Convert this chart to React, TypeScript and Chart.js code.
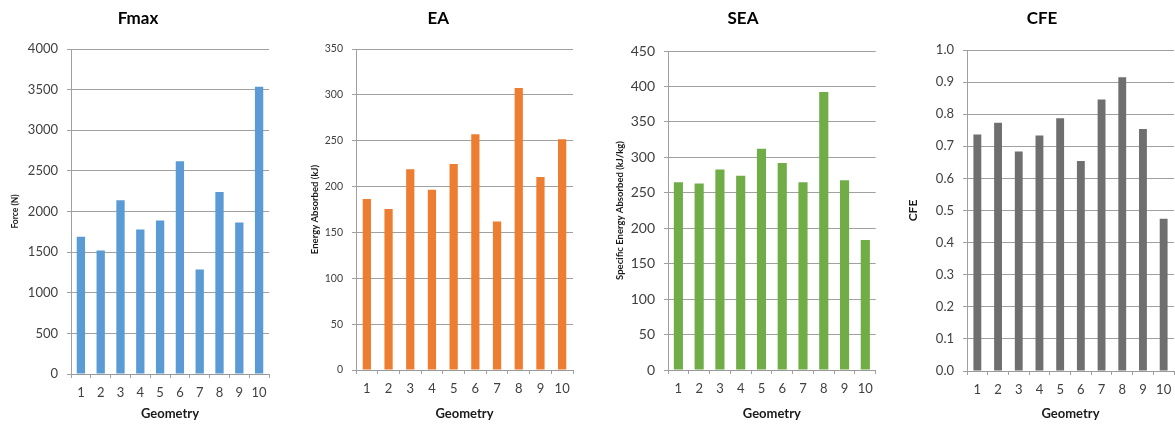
import React, { useEffect, useRef } from "react";
import { Chart, registerables } from "chart.js";

Chart.register(...registerables);

// Geometry numbers along the x axis of every panel
const geometries = ["1", "2", "3", "4", "5", "6", "7", "8", "9", "10"];

// Peak crushing force (N)
const fmaxValues = [1690, 1520, 2140, 1780, 1890, 2620, 1285, 2240, 1865, 3535];
// Energy absorbed (kJ)
const eaValues = [186.5, 175.5, 219, 196.5, 224.5, 257, 162, 307.5, 210.5, 251.5];
// Specific energy absorbed (kJ/kg)
const seaValues = [265, 263, 283, 274, 312, 292, 265, 392, 267.5, 183.5];
// Crush force efficiency
const cfeValues = [0.737, 0.773, 0.684, 0.734, 0.787, 0.654, 0.846, 0.915, 0.754, 0.474];

const FONT = "Lato, 'Open Sans', sans-serif";
const CANVAS_H = 424;

type PanelProps = {
  left: number;
  width: number;
  title: string;
  yTitle: string;
  values: number[];
  color: string;
  yMax: number;
  yStep: number;
  decimals: number;
  yAxisWidth: number;
  xAxisHeight: number;
  padLeft: number;
  padRight: number;
  titleBottom: number;
  yTickSize: number;
  yTitleSize: number;
  yTitlePad: number;
  barFrac: number;
};

function Panel(p: PanelProps) {
  const ref = useRef<HTMLCanvasElement | null>(null);

  useEffect(() => {
    if (!ref.current) return;
    const chart = new Chart(ref.current, {
      type: "bar",
      data: {
        labels: geometries,
        datasets: [
          {
            data: p.values,
            backgroundColor: p.color,
            borderWidth: 0,
            barPercentage: p.barFrac,
            categoryPercentage: 1,
          },
        ],
      },
      options: {
        responsive: false,
        animation: false,
        devicePixelRatio: 1,
        layout: { padding: { left: p.padLeft, right: p.padRight, top: 0, bottom: 0 } },
        plugins: {
          legend: { display: false },
          tooltip: { enabled: false },
          title: {
            display: true,
            text: p.title,
            color: "#000000",
            font: { family: FONT, size: 17, weight: "bold" },
            padding: { top: 8, bottom: p.titleBottom },
          },
        },
        scales: {
          x: {
            type: "category",
            offset: true,
            grid: {
              display: true,
              offset: true,
              drawOnChartArea: false,
              drawTicks: true,
              tickLength: 4,
              color: "#a0a0a0",
            },
            border: { display: true, color: "#9a9a9a", width: 1 },
            ticks: {
              color: "#404040",
              font: { family: FONT, size: 13 },
              padding: 7,
              maxRotation: 0,
              autoSkip: false,
            },
            title: {
              display: true,
              text: "Geometry",
              color: "#1a1a1a",
              font: { family: FONT, size: 13, weight: "bold" },
              padding: { top: 0, bottom: 2 },
            },
            afterFit: (scale: any) => {
              scale.height = p.xAxisHeight;
            },
          },
          y: {
            type: "linear",
            min: 0,
            max: p.yMax,
            grid: {
              color: "#a0a0a0",
              lineWidth: 1,
              drawTicks: true,
              tickLength: 4,
            },
            border: { display: true, color: "#a0a0a0", width: 1 },
            ticks: {
              stepSize: p.yStep,
              color: "#404040",
              font: { family: FONT, size: p.yTickSize },
              padding: 9,
              callback: (v: any) => Number(v).toFixed(p.decimals),
            },
            title: {
              display: true,
              text: p.yTitle,
              color: "#1a1a1a",
              font: { family: FONT, size: p.yTitleSize, weight: "bold" },
              padding: { top: p.yTitlePad, bottom: 0 },
            },
            afterFit: (scale: any) => {
              scale.width = p.yAxisWidth;
            },
          },
        },
      },
    });
    return () => chart.destroy();
  }, []);

  return (
    <canvas
      ref={ref}
      width={p.width}
      height={CANVAS_H}
      style={{ position: "absolute", left: p.left, top: 0, width: p.width, height: CANVAS_H }}
    />
  );
}

export default function App() {
  return (
    <div
      style={{
        position: "absolute",
        left: 0,
        top: 0,
        width: 1175,
        height: 424,
        overflow: "hidden",
        background: "#ffffff",
      }}
    >
      <Panel
        left={0}
        width={290}
        title="Fmax"
        yTitle="Force (N)"
        values={fmaxValues}
        color="#5b9bd5"
        yMax={4000}
        yStep={500}
        decimals={0}
        padLeft={7}
        yAxisWidth={64}
        xAxisHeight={50}
        padRight={21}
        titleBottom={20.6}
        yTickSize={13}
        yTitleSize={8.5}
        yTitlePad={2.9}
        barFrac={0.42}
      />
      <Panel
        left={290}
        width={300}
        title="EA"
        yTitle="Energy Absorbed (kJ)"
        values={eaValues}
        color="#ed7d31"
        yMax={350}
        yStep={50}
        decimals={0}
        padLeft={13.6}
        yAxisWidth={52.4}
        xAxisHeight={54}
        padRight={17}
        titleBottom={20.6}
        yTickSize={10.5}
        yTitleSize={9.5}
        yTitlePad={5.7}
        barFrac={0.38}
      />
      <Panel
        left={590}
        width={290}
        title="SEA"
        yTitle="Specific Energy Absorbed (kJ/kg)"
        values={seaValues}
        color="#70ad47"
        yMax={450}
        yStep={50}
        decimals={0}
        padLeft={19}
        yAxisWidth={59}
        xAxisHeight={54}
        padRight={3}
        titleBottom={22.6}
        yTickSize={14}
        yTitleSize={9.5}
        yTitlePad={5.3}
        barFrac={0.44}
      />
      <Panel
        left={880}
        width={310}
        title="CFE"
        yTitle="CFE"
        values={cfeValues}
        color="#6f6f6f"
        yMax={1}
        yStep={0.1}
        decimals={1}
        padLeft={30}
        yAxisWidth={57}
        xAxisHeight={53}
        padRight={16}
        titleBottom={21.6}
        yTickSize={13}
        yTitleSize={12}
        yTitlePad={-4.2}
        barFrac={0.38}
      />
    </div>
  );
}
